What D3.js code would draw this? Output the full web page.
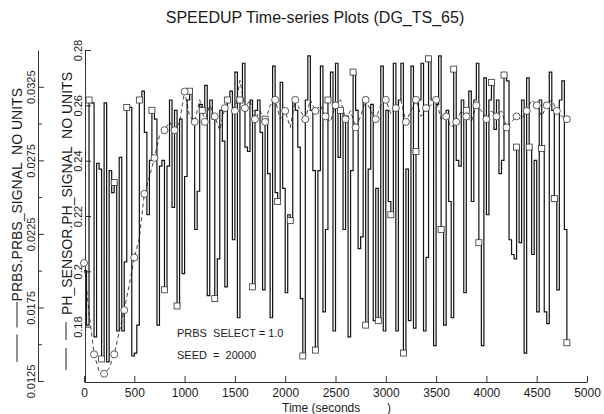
<!DOCTYPE html>
<html>
<head>
<meta charset="utf-8">
<script src="https://cdn.jsdelivr.net/npm/d3@7"></script>
<style>
  body { margin: 0; background: #fff; }
  svg text { font-family: "Liberation Sans", Arial, sans-serif; fill: #1a1a1a; }
</style>
</head>
<body>
<svg id="chart" width="604" height="414"></svg>
<script>
// sample spacing (seconds) of the two traces
const prbsStep = 25;
const phStep = 50;

// PRBS.PRBS_SIGNAL, one value every 25 s from t = 0 to 4800
const prbsSignal = [
  0.0200, 0.0163, 0.0316, 0.0314, 0.0155, 0.0273, 0.0269, 0.0140, 0.0314, 0.0138,
  0.0268, 0.0253, 0.0260, 0.0159, 0.0277, 0.0159, 0.0206, 0.0311, 0.0311, 0.0142,
  0.0144, 0.0163, 0.0316, 0.0322, 0.0294, 0.0238, 0.0275, 0.0309, 0.0303, 0.0163,
  0.0271, 0.0275, 0.0187, 0.0271, 0.0316, 0.0243, 0.0309, 0.0176, 0.0303, 0.0198,
  0.0264, 0.0316, 0.0322, 0.0303, 0.0228, 0.0254, 0.0313, 0.0309, 0.0326, 0.0183,
  0.0316, 0.0303, 0.0181, 0.0208, 0.0309, 0.0288, 0.0189, 0.0316, 0.0322, 0.0221,
  0.0335, 0.0168, 0.0316, 0.0341, 0.0284, 0.0281, 0.0316, 0.0189, 0.0309, 0.0316,
  0.0294, 0.0187, 0.0303, 0.0266, 0.0168, 0.0339, 0.0253, 0.0247, 0.0328, 0.0256,
  0.0185, 0.0238, 0.0234, 0.0316, 0.0309, 0.0284, 0.0181, 0.0142, 0.0316, 0.0346,
  0.0309, 0.0268, 0.0146, 0.0268, 0.0339, 0.0172, 0.0228, 0.0316, 0.0335, 0.0159,
  0.0341, 0.0277, 0.0309, 0.0228, 0.0305, 0.0155, 0.0268, 0.0335, 0.0309, 0.0215,
  0.0223, 0.0316, 0.0163, 0.0269, 0.0313, 0.0166, 0.0256, 0.0166, 0.0339, 0.0159,
  0.0309, 0.0247, 0.0238, 0.0341, 0.0159, 0.0316, 0.0341, 0.0144, 0.0269, 0.0166,
  0.0339, 0.0161, 0.0281, 0.0316, 0.0341, 0.0159, 0.0209, 0.0344, 0.0316, 0.0149,
  0.0313, 0.0346, 0.0228, 0.0163, 0.0309, 0.0247, 0.0168, 0.0337, 0.0275, 0.0271,
  0.0316, 0.0185, 0.0309, 0.0322, 0.0247, 0.0316, 0.0341, 0.0219, 0.0149, 0.0331,
  0.0238, 0.0316, 0.0328, 0.0296, 0.0316, 0.0266, 0.0275, 0.0333, 0.0329, 0.0221,
  0.0211, 0.0208, 0.0284, 0.0219, 0.0316, 0.0144, 0.0331, 0.0284, 0.0211, 0.0275,
  0.0172, 0.0316, 0.0283, 0.0172, 0.0164, 0.0335, 0.0309, 0.0249, 0.0187, 0.0316,
  0.0329, 0.0228, 0.0151
];

// PH_SENSOR.PH_SIGNAL, one value every 50 s from t = 0 to 4800
const phSignal = [
  0.203, 0.185, 0.170, 0.164, 0.163, 0.165, 0.170, 0.178, 0.186, 0.195,
  0.205, 0.212, 0.228, 0.234, 0.241, 0.249, 0.251, 0.254, 0.251, 0.254,
  0.265, 0.256, 0.254, 0.262, 0.254, 0.260, 0.256, 0.251, 0.259, 0.262,
  0.258, 0.269, 0.259, 0.262, 0.255, 0.258, 0.254, 0.260, 0.262, 0.255,
  0.258, 0.252, 0.262, 0.258, 0.255, 0.262, 0.258, 0.260, 0.256, 0.254,
  0.260, 0.262, 0.255, 0.258, 0.252, 0.256, 0.262, 0.258, 0.255, 0.260,
  0.262, 0.257, 0.259, 0.262, 0.254, 0.258, 0.262, 0.256, 0.259, 0.260,
  0.262, 0.255, 0.256, 0.252, 0.254, 0.258, 0.256, 0.254, 0.260, 0.258,
  0.255, 0.258, 0.256, 0.258, 0.252, 0.254, 0.256, 0.255, 0.258, 0.262,
  0.260, 0.256, 0.260, 0.262, 0.258, 0.256, 0.255
];

const xTicks = [0, 500, 1000, 1500, 2000, 2500, 3000, 3500, 4000, 4500, 5000];
const phTicks = [0.18, 0.2, 0.22, 0.24, 0.26, 0.28];
const prbsTicks = [0.0125, 0.0175, 0.0225, 0.0275, 0.0325];
const prbsMinorTicks = [0.015, 0.02, 0.025, 0.03];

const svg = d3.select("#chart");

const x = d3.scaleLinear().domain([0, 5000]).range([84, 587]);
const yPh = d3.scaleLinear().domain([0.16, 0.28]).range([382, 50]);
const yPrbs = d3.scaleLinear().domain([0.0125, 0.035]).range([381, 50]);

// title
svg.append("text")
  .attr("x", 315).attr("y", 23)
  .attr("text-anchor", "middle")
  .style("font-size", "16px")
  .text("SPEEDUP Time-series Plots (DG_TS_65)");

// x axis, ticks pointing into the plot
const xAxis = svg.append("g")
  .attr("transform", "translate(0,382)")
  .call(d3.axisBottom(x).tickValues(xTicks).tickFormat(d3.format("d"))
    .tickSizeInner(-6).tickSizeOuter(0).tickPadding(6));
xAxis.selectAll("text").style("font-size", "12px");

svg.append("text")
  .attr("x", 282).attr("y", 412)
  .style("font-size", "12px")
  .style("white-space", "pre")
  .text("Time (seconds        )");

// rotate the tick labels of a left axis so they read upwards
function rotateLabels(g, gap) {
  g.selectAll(".tick text")
    .attr("transform", "rotate(-90)")
    .attr("x", 0).attr("y", -gap).attr("dy", 0)
    .attr("text-anchor", "middle")
    .style("font-size", "11px");
}

// inner axis: PH signal
const phAxis = svg.append("g")
  .attr("transform", "translate(85,0)")
  .call(d3.axisLeft(yPh).tickValues(phTicks).tickFormat(d => String(+d.toFixed(2)))
    .tickSizeInner(-6).tickSizeOuter(0));
rotateLabels(phAxis, 3);

// outer axis: PRBS signal
const prbsAxis = svg.append("g")
  .attr("transform", "translate(38,0)")
  .call(d3.axisLeft(yPrbs).tickValues(prbsTicks).tickFormat(d => String(+d.toFixed(4)))
    .tickSizeInner(-6).tickSizeOuter(0));
rotateLabels(prbsAxis, 3);
svg.append("g")
  .attr("transform", "translate(38,0)")
  .call(d3.axisLeft(yPrbs).tickValues(prbsMinorTicks).tickFormat("")
    .tickSizeInner(-4).tickSizeOuter(0))
  .select(".domain").remove();

svg.selectAll(".domain, .tick line").attr("stroke", "#333");

// rotated axis titles with their little legend keys
function axisTitle(xPos, yEnd, label) {
  svg.append("text")
    .attr("transform", `translate(${xPos},${yEnd}) rotate(-90)`)
    .attr("text-anchor", "end")
    .style("font-size", "14px")
    .style("white-space", "pre")
    .text(label);
}
axisTitle(22, 88, "PRBS.PRBS_SIGNAL  NO UNITS");
axisTitle(72, 72, "PH_SENSOR.PH_SIGNAL  NO UNITS");

svg.append("line").attr("x1", 17).attr("x2", 17).attr("y1", 302).attr("y2", 362)
  .attr("stroke", "#222");
svg.append("rect").attr("x", 14).attr("y", 328).attr("width", 6).attr("height", 6)
  .attr("fill", "#fff").attr("stroke", "#fff");
svg.append("line").attr("x1", 66).attr("x2", 66).attr("y1", 322).attr("y2", 370)
  .attr("stroke", "#222");
svg.append("circle").attr("cx", 66).attr("cy", 344).attr("r", 3.5)
  .attr("fill", "#fff").attr("stroke", "#fff");

// annotations
svg.append("text").attr("x", 177).attr("y", 337).style("font-size", "11px")
  .style("white-space", "pre").text("PRBS  SELECT = 1.0");
svg.append("text").attr("x", 177).attr("y", 359).style("font-size", "11px")
  .style("white-space", "pre").text("SEED  =  20000");

// PH trace: dashed line with open circles
const phLine = d3.line()
  .x((d, i) => x(i * phStep))
  .y(d => yPh(d));
svg.append("path")
  .datum(phSignal)
  .attr("d", phLine)
  .attr("fill", "none")
  .attr("stroke", "#444")
  .attr("stroke-width", 1)
  .attr("stroke-dasharray", "4,3");

// PRBS trace: solid stepped line with open squares
const prbsLine = d3.line()
  .curve(d3.curveStepAfter)
  .x((d, i) => x(i * prbsStep))
  .y(d => yPrbs(d));
svg.append("path")
  .datum(prbsSignal)
  .attr("d", prbsLine)
  .attr("fill", "none")
  .attr("stroke", "#111")
  .attr("stroke-width", 1.2);

svg.selectAll("rect.mark")
  .data(prbsSignal.map((v, i) => [i * prbsStep, v]).filter((d, i) => i % 5 === 2))
  .enter()
  .append("rect")
  .attr("class", "mark")
  .attr("x", d => x(d[0]) - 3)
  .attr("y", d => yPrbs(d[1]) - 3)
  .attr("width", 6).attr("height", 6)
  .attr("fill", "#fff")
  .attr("stroke", "#333")
  .attr("stroke-width", 0.8);

svg.selectAll("circle.mark")
  .data(phSignal.map((v, i) => [i * phStep, v]).filter((d, i) => i % 2 === 0))
  .enter()
  .append("circle")
  .attr("class", "mark")
  .attr("cx", d => x(d[0]))
  .attr("cy", d => yPh(d[1]))
  .attr("r", 3.5)
  .attr("fill", "#fff")
  .attr("stroke", "#333")
  .attr("stroke-width", 0.8);
</script>
</body>
</html>
